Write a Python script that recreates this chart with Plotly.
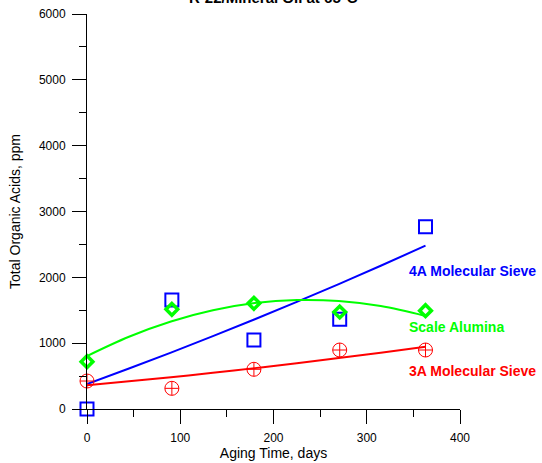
import plotly.graph_objects as go

# Measured data
days = [0, 91, 179, 271, 363]
sieve4a = [0, 1656, 1048, 1362, 2770]
alumina = [719, 1514, 1605, 1473, 1494]
sieve3a = [425, 314, 603, 896, 896]

# Fitted trend curves
fit_days = [0, 45, 90, 135, 180, 225, 270, 315, 363]
fit4a = [380, 615, 857, 1107, 1364, 1627, 1898, 2176, 2481]
fit_alumina = [805, 1098, 1330, 1500, 1609, 1655, 1640, 1563, 1413]
fit3a = [360, 420, 483, 550, 621, 696, 774, 856, 947]

labels = ["4A Molecular Sieve", "Scale Alumina", "3A Molecular Sieve"]
label_y = [2100, 1250, 580]

BLUE = "#0000FF"
GREEN = "#00FF00"
RED = "#FF0000"
FONT = "Liberation Sans, Arial, sans-serif"

fig = go.Figure()

fig.add_trace(go.Scatter(x=fit_days, y=fit4a, mode="lines", line=dict(color=BLUE, width=2, shape="spline"),
                         cliponaxis=False, hoverinfo="skip"))
fig.add_trace(go.Scatter(x=fit_days, y=fit_alumina, mode="lines", line=dict(color=GREEN, width=2, shape="spline"),
                         cliponaxis=False, hoverinfo="skip"))
fig.add_trace(go.Scatter(x=fit_days, y=fit3a, mode="lines", line=dict(color=RED, width=2, shape="spline"),
                         cliponaxis=False, hoverinfo="skip"))

fig.add_trace(go.Scatter(x=days, y=sieve4a, mode="markers", cliponaxis=False,
                         marker=dict(symbol="square-open", size=13, color=BLUE, line=dict(width=2, color=BLUE))))
fig.add_trace(go.Scatter(x=days, y=alumina, mode="markers", cliponaxis=False,
                         marker=dict(symbol="diamond-open", size=9, color=GREEN, line=dict(width=3.5, color=GREEN))))
fig.add_trace(go.Scatter(x=days, y=sieve3a, mode="markers", cliponaxis=False,
                         marker=dict(symbol="circle-cross-open", size=14, color=RED, line=dict(width=1, color=RED))))

for txt, yv, col in zip(labels, label_y, [BLUE, GREEN, RED]):
    fig.add_annotation(x=343, y=yv, xref="x", yref="y", text="<b>%s</b>" % txt, showarrow=False,
                       xanchor="left", yanchor="middle", font=dict(family=FONT, size=14, color=col))

# Title (partly cut off at the top edge, as in the original)
fig.add_annotation(x=0.4987, y=1.042, xref="paper", yref="paper", text="<b>R-22/Mineral Oil at 65°C</b>",
                   showarrow=False, xanchor="center", yanchor="middle",
                   font=dict(family=FONT, size=15, color="black"))

fig.update_layout(
    width=542, height=463,
    margin=dict(l=87, r=82, t=14, b=54),
    paper_bgcolor="white", plot_bgcolor="white",
    showlegend=False,
    font=dict(family=FONT, size=12, color="black"),
)

fig.update_xaxes(range=[0, 400], tickvals=[0, 100, 200, 300, 400], ticks="outside", ticklen=14, tickwidth=1,
                 tickcolor="black", showline=True, linecolor="black", linewidth=1, showgrid=False, zeroline=False,
                 minor=dict(ticks="outside", ticklen=7, dtick=50, tick0=0, tickcolor="black", showgrid=False),
                 ticklabelstandoff=4, automargin=False,
                 title=dict(text="Aging Time, days", font=dict(family=FONT, size=14), standoff=2),
                 tickfont=dict(family=FONT, size=12))
fig.update_yaxes(range=[0, 6000], tickvals=[0, 1000, 2000, 3000, 4000, 5000, 6000], ticks="outside", ticklen=14,
                 tickwidth=1, tickcolor="black", showline=True, linecolor="black", linewidth=1, showgrid=False,
                 zeroline=False,
                 minor=dict(ticks="outside", ticklen=7, dtick=500, tick0=0, tickcolor="black", showgrid=False),
                 ticklabelstandoff=4, automargin=False,
                 title=dict(text="Total Organic Acids, ppm", font=dict(family=FONT, size=14), standoff=14),
                 tickfont=dict(family=FONT, size=12))

fig.write_html("out.html")
